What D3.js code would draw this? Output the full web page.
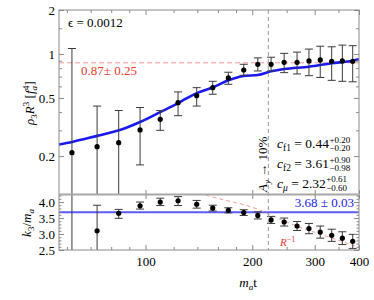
<!DOCTYPE html>
<html>
<head>
<meta charset="utf-8">
<script src="https://cdn.jsdelivr.net/npm/d3@7"></script>
<style>
body { margin: 0; background: #fff; }
text { font-family: "Liberation Serif", "DejaVu Serif", serif; }
</style>
</head>
<body>
<script>
// m_a t of every sample (same for both panels)
var mat = [62, 73, 84, 96.5, 110, 123.5, 139.4, 154.7, 171.2, 189.2, 207.3, 226, 246, 267.5, 289, 311, 335, 359, 384]

// top panel: rho_3 R^3
var rho    = [0.211, 0.232, 0.247, 0.302, 0.357, 0.464, 0.518, 0.588, 0.685, 0.777, 0.85, 0.85, 0.877, 0.877, 0.896, 0.91, 0.89, 0.896, 0.89]
var rho_hi = [1.09, 0.44, 0.41, 0.43, 0.41, 0.55, 0.588, 0.65, 0.75, 0.85, 0.94, 0.95, 1.01, 1.03, 1.08, 1.13, 1.12, 1.15, 1.14]
var rho_lo = [0.05, 0.05, 0.05, 0.174, 0.30, 0.378, 0.44, 0.53, 0.62, 0.715, 0.765, 0.765, 0.745, 0.73, 0.71, 0.69, 0.66, 0.65, 0.645]

// blue fit curve in the top panel
var fit_t = [57, 62.1, 73, 84.2, 96.5, 110, 123.5, 129.2, 139.4, 154.7, 171.2, 189.2, 207.3, 226, 246, 289, 335, 384, 400]
var fit_v = [0.24, 0.25, 0.275, 0.30, 0.342, 0.40, 0.46, 0.49, 0.54, 0.59, 0.66, 0.707, 0.718, 0.761, 0.789, 0.818, 0.864, 0.9, 0.92]

// bottom panel: k_3 / m_a
var k3    = [2.0, 3.1, 3.65, 3.88, 4.0, 4.04, 3.93, 3.81, 3.74, 3.67, 3.58, 3.44, 3.375, 3.25, 3.17, 3.06, 2.96, 2.87, 2.77]
var k3_hi = [5, 3.9, 3.77, 4.0, 4.12, 4.17, 4.05, 3.9, 3.82, 3.76, 3.69, 3.55, 3.5, 3.39, 3.33, 3.25, 3.15, 3.07, 2.99]
var k3_lo = [0, 1.5, 3.49, 3.78, 3.89, 3.89, 3.81, 3.72, 3.66, 3.58, 3.47, 3.33, 3.25, 3.11, 3.01, 2.87, 2.77, 2.67, 2.55]

// R^-1 guide (red dashed, bottom panel)
var rline_t = [125, 144, 210, 242, 306, 349, 390, 400]
var rline_v = [4.55, 4.27, 3.75, 3.44, 3.02, 2.81, 2.625, 2.59]

var plateau = 0.87      // red dashed, top panel
var k3_fit = 3.68       // blue line, bottom panel
var t_cut = 222         // vertical dashed line

var x_major = [100, 200, 300, 400]
var x_minor = [60, 70, 80, 90, 120, 140, 160, 180, 250, 350]
var y1_major = [0.2, 0.5, 1, 2]
var y1_minor = [0.3, 0.4, 0.6, 0.7, 0.8, 0.9, 1.5]
var y2_major = [2.5, 3, 3.5, 4]
var y2_minor = [2.6, 2.7, 2.8, 2.9, 3.1, 3.2, 3.3, 3.4, 3.6, 3.7, 3.8, 3.9, 4.1, 4.2]

var W = 374, H = 300
var left = 59, right = 359, top1 = 10, bot1 = 194, top2 = 195, bot2 = 250
var frame_col = '#8a8a8a'

var svg = d3.select('body').append('svg').attr('width', W).attr('height', H)

var x = d3.scaleLog().domain([57, 400]).range([left, right])
var y1 = d3.scaleLog().domain([0.11, 2]).range([bot1, top1])
var y2 = d3.scaleLinear().domain([2.5, 4.22]).range([bot2, top2])

var defs = svg.append('defs')
defs.append('clipPath').attr('id', 'c1').append('rect')
	.attr('x', left).attr('y', top1).attr('width', right-left).attr('height', bot1-top1)
defs.append('clipPath').attr('id', 'c2').append('rect')
	.attr('x', left).attr('y', top2).attr('width', right-left).attr('height', bot2-top2)

var p1 = svg.append('g').attr('clip-path', 'url(#c1)')
var p2 = svg.append('g').attr('clip-path', 'url(#c2)')

// guide lines
p1.append('line')
	.attr('x1', left).attr('x2', right).attr('y1', y1(plateau)).attr('y2', y1(plateau))
	.attr('stroke', '#f29a9a').attr('stroke-width', 1).attr('stroke-dasharray', '5,3')

svg.append('line')
	.attr('x1', x(t_cut)).attr('x2', x(t_cut)).attr('y1', top1).attr('y2', bot2)
	.attr('stroke', '#999').attr('stroke-width', 1).attr('stroke-dasharray', '4,3')

p1.append('path')
	.datum(fit_t.map((t, i) => [t, fit_v[i]]))
	.attr('d', d3.line().x(d => x(d[0])).y(d => y1(d[1])).curve(d3.curveMonotoneX))
	.attr('fill', 'none').attr('stroke', '#1a1aee').attr('stroke-width', 2.6)

p2.append('line')
	.attr('x1', left).attr('x2', right).attr('y1', y2(k3_fit)).attr('y2', y2(k3_fit))
	.attr('stroke', '#5b5bf5').attr('stroke-width', 1.8)

p2.append('path')
	.datum(rline_t.map((t, i) => [t, rline_v[i]]))
	.attr('d', d3.line().x(d => x(d[0])).y(d => y2(d[1])).curve(d3.curveMonotoneX))
	.attr('fill', 'none').attr('stroke', '#f4a0a0').attr('stroke-width', 1).attr('stroke-dasharray', '4,3')

// error bars + dots
function draw_points(g, ys, vals, his, los) {
	var rows = mat.map((t, i) => ({t: t, v: vals[i], hi: his[i], lo: los[i]}))
	var bars = g.selectAll(null).data(rows).enter().append('g')
		.attr('stroke', '#3a3a3a').attr('stroke-width', 1)
	bars.append('line')
		.attr('x1', d => x(d.t)).attr('x2', d => x(d.t))
		.attr('y1', d => ys(d.hi)).attr('y2', d => ys(d.lo))
	bars.append('line')
		.attr('x1', d => x(d.t)-4).attr('x2', d => x(d.t)+4)
		.attr('y1', d => ys(d.hi)).attr('y2', d => ys(d.hi))
	bars.append('line')
		.attr('x1', d => x(d.t)-4).attr('x2', d => x(d.t)+4)
		.attr('y1', d => ys(d.lo)).attr('y2', d => ys(d.lo))
	g.selectAll(null).data(rows).enter().append('circle')
		.attr('cx', d => x(d.t)).attr('cy', d => ys(d.v)).attr('r', 2.6)
		.attr('fill', '#000')
}
draw_points(p1, y1, rho, rho_hi, rho_lo)
draw_points(p2, y2, k3, k3_hi, k3_lo)

// frames
svg.append('rect').attr('x', left).attr('y', top1).attr('width', right-left).attr('height', bot2-top1)
	.attr('fill', 'none').attr('stroke', frame_col).attr('stroke-width', 1)
svg.append('line').attr('x1', left).attr('x2', right).attr('y1', 194.5).attr('y2', 194.5)
	.attr('stroke', '#a8a8a8').attr('stroke-width', 2)

// axes, ticks pointing inward
function style_axis(g) {
	g.select('.domain').remove()
	g.selectAll('line').attr('stroke', frame_col)
	g.selectAll('text').attr('font-family', '"Liberation Serif", serif').attr('font-size', 13).attr('fill', '#000')
}
function add_axis(axis, tx, ty, vals, size, fmt) {
	var a = axis.tickValues(vals).tickSizeInner(size).tickSizeOuter(0).tickPadding(4)
	a.tickFormat(fmt ? fmt : '')
	svg.append('g').attr('transform', 'translate('+tx+','+ty+')').call(a).call(style_axis)
}

add_axis(d3.axisLeft(y1), left, 0, y1_major, -5, d => d)
add_axis(d3.axisLeft(y1), left, 0, y1_minor, -3)
add_axis(d3.axisRight(y1), right, 0, y1_major, -5)
add_axis(d3.axisRight(y1), right, 0, y1_minor, -3)

add_axis(d3.axisLeft(y2), left, 0, y2_major, -5, d3.format('.1f'))
add_axis(d3.axisLeft(y2), left, 0, y2_minor, -2.5)
add_axis(d3.axisRight(y2), right, 0, y2_major, -5)
add_axis(d3.axisRight(y2), right, 0, y2_minor, -2.5)

add_axis(d3.axisBottom(x).tickPadding(7), 0, bot2, x_major, -5, d => d)
add_axis(d3.axisBottom(x), 0, bot2, x_minor, -3)
add_axis(d3.axisTop(x), 0, top1, x_major, -5)
add_axis(d3.axisTop(x), 0, top1, x_minor, -3)
add_axis(d3.axisBottom(x), 0, bot1, x_major, -4)
add_axis(d3.axisTop(x), 0, top2, x_major, -4)
svg.selectAll('.tick text').filter(function() { return this.textContent == '' }).remove()
// bottom labels sit a bit lower than padding 4 gives
svg.selectAll('g').filter(function() { return d3.select(this).attr('transform') == 'translate(0,'+bot2+')' })
	.selectAll('text').attr('y', 7)

// texts
svg.append('text').attr('x', 68).attr('y', 27).attr('font-size', 13).text('\u03f5 = 0.0012')
svg.append('text').attr('x', 81).attr('y', 75).attr('font-size', 13).attr('fill', '#e8382e').text('0.87\u00b1 0.25')
svg.append('text').attr('x', 354).attr('y', 206.5).attr('font-size', 13).attr('text-anchor', 'end')
	.attr('fill', '#2020ee').text('3.68 \u00b1 0.03')

var rl = svg.append('text').attr('x', 280).attr('y', 246).attr('font-size', 11).attr('fill', '#e8382e')
rl.append('tspan').attr('font-style', 'italic').text('R')
rl.append('tspan').attr('font-size', 8).attr('dy', -4).text('\u22121')

// c_f1, c_f2, c_mu with stacked errors
var cvals = [
	{sub: 'f1', val: '0.44', up: '+0.20', dn: '\u22120.20'},
	{sub: 'f2', val: '3.61', up: '+0.90', dn: '\u22120.98'},
	{sub: '\u03bc', val: '2.32', up: '+0.61', dn: '\u22120.60'}
]
var cbase = [148, 168, 187.5]
cvals.forEach((c, i) => {
	var t = svg.append('text').attr('x', 277).attr('y', cbase[i]).attr('font-size', 13.5)
	t.append('tspan').attr('font-style', 'italic').text('c')
	t.append('tspan').attr('font-size', 9.5).attr('dy', 3).attr('font-style', c.sub == '\u03bc' ? 'italic' : 'normal').text(c.sub)
	t.append('tspan').attr('dy', -3).text(' = ' + c.val)
	var w = t.node().getComputedTextLength()
	svg.append('text').attr('x', 277 + w + 0.5).attr('y', cbase[i] - 5.5).attr('font-size', 9).text(c.up)
	svg.append('text').attr('x', 277 + w + 0.5).attr('y', cbase[i] + 3).attr('font-size', 9).text(c.dn)
})

// A_y -> 10% along the dashed line
var ay = svg.append('text').attr('transform', 'translate(266.5,192) rotate(-90)').attr('font-size', 13)
ay.append('tspan').attr('font-style', 'italic').text('A')
ay.append('tspan').attr('font-style', 'italic').attr('font-size', 9).attr('dy', 3).text('y')
ay.append('tspan').attr('dy', -3).text(' \u2192 10%')

// axis titles
var xl = svg.append('text').attr('x', 248).attr('y', 287).attr('font-size', 13).attr('text-anchor', 'middle')
xl.append('tspan').attr('font-style', 'italic').text('m')
xl.append('tspan').attr('font-style', 'italic').attr('font-size', 9).attr('dy', 3).text('a')
xl.append('tspan').attr('dy', -3).text('t')

var yl = svg.append('text').attr('transform', 'translate(34,103) rotate(-90)').attr('font-size', 13).attr('text-anchor', 'middle')
yl.append('tspan').attr('font-style', 'italic').text('\u03c1')
yl.append('tspan').attr('font-size', 9).attr('dy', 3).text('3')
yl.append('tspan').attr('font-style', 'italic').attr('dy', -3).text('R')
yl.append('tspan').attr('font-size', 9).attr('dy', -5).text('3')
yl.append('tspan').attr('dy', 5).text(' [')
yl.append('tspan').attr('font-style', 'italic').text('f')
yl.append('tspan').attr('font-style', 'italic').attr('font-size', 9).attr('dy', 3).text('a')
yl.append('tspan').attr('font-size', 9).attr('dy', -8).attr('dx', -4).text('4')
yl.append('tspan').attr('dy', 5).text(']')

var kl = svg.append('text').attr('transform', 'translate(31,223) rotate(-90)').attr('font-size', 13).attr('text-anchor', 'middle')
kl.append('tspan').attr('font-style', 'italic').text('k')
kl.append('tspan').attr('font-size', 9).attr('dy', 3).text('3')
kl.append('tspan').attr('dy', -3).text('/')
kl.append('tspan').attr('font-style', 'italic').text('m')
kl.append('tspan').attr('font-style', 'italic').attr('font-size', 9).attr('dy', 3).text('a')
</script>
</body>
</html>
